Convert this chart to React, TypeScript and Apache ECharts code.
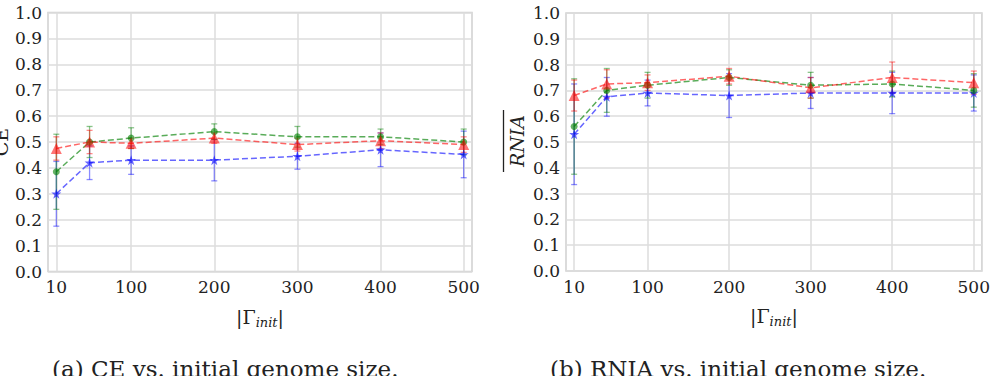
import React, { useEffect, useRef } from "react";
import * as echarts from "echarts";

// ---- data ----
const xValues = [10, 50, 100, 200, 300, 400, 500];
const xTickValues = [10, 100, 200, 300, 400, 500];

// CE panel
const ceBlue = [0.3, 0.42, 0.43, 0.43, 0.445, 0.47, 0.452];
const ceBlueErr = [0.125, 0.065, 0.055, 0.08, 0.05, 0.065, 0.09];
const ceGreen = [0.385, 0.5, 0.515, 0.54, 0.52, 0.52, 0.5];
const ceGreenErr = [0.145, 0.06, 0.04, 0.03, 0.04, 0.03, 0.05];
const ceRed = [0.475, 0.5, 0.495, 0.515, 0.49, 0.505, 0.49];
const ceRedErr = [0.045, 0.045, 0.02, 0.02, 0.025, 0.03, 0.03];

// RNIA panel
const rnBlue = [0.53, 0.675, 0.69, 0.68, 0.69, 0.69, 0.69];
const rnBlueErr = [0.195, 0.075, 0.05, 0.085, 0.06, 0.08, 0.07];
const rnGreen = [0.56, 0.7, 0.72, 0.75, 0.72, 0.725, 0.7];
const rnGreenErr = [0.185, 0.085, 0.05, 0.03, 0.05, 0.05, 0.065];
const rnRed = [0.68, 0.725, 0.73, 0.755, 0.71, 0.75, 0.73];
const rnRedErr = [0.06, 0.055, 0.03, 0.03, 0.04, 0.06, 0.045];

const captionA = "(a) CE vs. initial genome size.";
const captionB = "(b) RNIA vs. initial genome size.";

// ---- styling ----
const FONT = '"DejaVu Serif", serif';
const TXT = "#222222";
const GRID_C = "#dddddd";
const STAR =
  "path://M0,-1L0.2245,-0.309L0.951,-0.309L0.363,0.118L0.588,0.809L0,0.382L-0.588,0.809L-0.363,0.118L-0.951,-0.309L-0.2245,-0.309Z";

const COLORS = {
  blue: { marker: "rgba(0,0,255,0.6)", line: "rgba(0,0,255,0.6)", err: "rgba(0,0,255,0.45)" },
  green: { marker: "rgba(0,128,0,0.6)", line: "rgba(0,128,0,0.65)", err: "rgba(0,128,0,0.45)" },
  red: { marker: "rgba(255,0,0,0.55)", line: "rgba(255,0,0,0.6)", err: "rgba(255,0,0,0.45)" },
};

function errSeries(idx: number, means: number[], errs: number[], color: string) {
  return {
    type: "custom",
    xAxisIndex: idx,
    yAxisIndex: idx,
    silent: true,
    z: 2,
    data: xValues.map((x, i) => [x, means[i] - errs[i], means[i] + errs[i]]),
    encode: { x: 0, y: [1, 2] },
    renderItem: (params: any, api: any) => {
      const x = api.value(0);
      const lo = api.value(1);
      const hi = api.value(2);
      const p1 = api.coord([x, lo]);
      const p2 = api.coord([x, hi]);
      const cw = 3;
      const style = { stroke: color, lineWidth: 1.3, fill: null };
      return {
        type: "group",
        children: [
          { type: "line", shape: { x1: p1[0], y1: p1[1], x2: p2[0], y2: p2[1] }, style },
          { type: "line", shape: { x1: p1[0] - cw, y1: p1[1], x2: p1[0] + cw, y2: p1[1] }, style },
          { type: "line", shape: { x1: p2[0] - cw, y1: p2[1], x2: p2[0] + cw, y2: p2[1] }, style },
        ],
      };
    },
  };
}

function lineSeries(
  idx: number,
  means: number[],
  c: { marker: string; line: string },
  symbol: string,
  size: number
) {
  return {
    type: "line",
    xAxisIndex: idx,
    yAxisIndex: idx,
    silent: true,
    z: 3,
    data: xValues.map((x, i) => [x, means[i]]),
    symbol,
    symbolSize: size,
    itemStyle: { color: c.marker, borderWidth: 0 },
    lineStyle: { color: c.line, width: 1.5, type: [6, 3] },
  };
}

function xAxis(idx: number) {
  return {
    type: "value",
    gridIndex: idx,
    min: 0,
    max: 510,
    axisLine: { show: false },
    axisTick: { show: false, customValues: xTickValues },
    axisLabel: { customValues: xTickValues, fontFamily: FONT, fontSize: 17, color: TXT, margin: 7 },
    splitLine: { show: true, lineStyle: { color: GRID_C, width: 1.5 } },
    name: "{a||Γ}{b|init}{a||}",
    nameLocation: "middle",
    nameGap: 33,
    nameTextStyle: {
      color: TXT,
      fontFamily: FONT,
      fontSize: 19,
      rich: {
        a: { fontFamily: FONT, fontSize: 19, color: TXT, lineHeight: 24 },
        b: {
          fontFamily: FONT,
          fontSize: 13,
          fontStyle: "italic",
          color: TXT,
          verticalAlign: "top",
          lineHeight: 14,
          padding: [11, 0, 0, 0],
        },
      },
    },
  };
}

function yAxis(idx: number) {
  return {
    type: "value",
    gridIndex: idx,
    min: 0,
    max: 1,
    interval: 0.1,
    axisLine: { show: false },
    axisTick: { show: false },
    axisLabel: {
      fontFamily: FONT,
      fontSize: 17,
      color: TXT,
      margin: 6,
      formatter: (v: number) => v.toFixed(1),
    },
    splitLine: { show: true, lineStyle: { color: GRID_C, width: 1.5 } },
  };
}

export default function App() {
  const ref = useRef<HTMLDivElement>(null);
  useEffect(() => {
    if (!ref.current) return;
    const chart = echarts.init(ref.current, null, { renderer: "svg" });
    chart.setOption({
      animation: false,
      backgroundColor: "#ffffff",
      grid: [
        { left: 48, top: 12.5, width: 424, height: 259, show: true, borderColor: "#cfcfcf", borderWidth: 1.5 },
        { left: 566, top: 13, width: 420, height: 258, show: true, borderColor: "#cfcfcf", borderWidth: 1.5 },
      ],
      xAxis: [xAxis(0), xAxis(1)],
      yAxis: [yAxis(0), yAxis(1)],
      series: [
        errSeries(0, ceBlue, ceBlueErr, COLORS.blue.err),
        lineSeries(0, ceBlue, COLORS.blue, STAR, 10),
        errSeries(0, ceGreen, ceGreenErr, COLORS.green.err),
        lineSeries(0, ceGreen, COLORS.green, "circle", 7),
        errSeries(0, ceRed, ceRedErr, COLORS.red.err),
        lineSeries(0, ceRed, COLORS.red, "triangle", 11),
        errSeries(1, rnBlue, rnBlueErr, COLORS.blue.err),
        lineSeries(1, rnBlue, COLORS.blue, STAR, 10),
        errSeries(1, rnGreen, rnGreenErr, COLORS.green.err),
        lineSeries(1, rnGreen, COLORS.green, "circle", 7),
        errSeries(1, rnRed, rnRedErr, COLORS.red.err),
        lineSeries(1, rnRed, COLORS.red, "triangle", 11),
      ],
      graphic: [
        {
          type: "text",
          x: 1,
          y: 142,
          rotation: Math.PI / 2,
          style: { text: "CE", fontFamily: FONT, fontSize: 19, fill: TXT, align: "center", verticalAlign: "middle" },
        },
        {
          type: "text",
          x: 517,
          y: 141,
          rotation: Math.PI / 2,
          style: {
            text: "RNIA",
            fontFamily: FONT,
            fontSize: 19,
            fontStyle: "italic",
            fill: TXT,
            align: "center",
            verticalAlign: "middle",
          },
        },
        {
          type: "line",
          shape: { x1: 503.5, y1: 110, x2: 503.5, y2: 172 },
          style: { stroke: TXT, lineWidth: 1.3 },
        },
        {
          type: "text",
          x: 52,
          y: 369,
          style: { text: captionA, fontFamily: FONT, fontSize: 23, fill: TXT, align: "left", verticalAlign: "middle" },
        },
        {
          type: "text",
          x: 550,
          y: 369,
          style: { text: captionB, fontFamily: FONT, fontSize: 23, fill: TXT, align: "left", verticalAlign: "middle" },
        },
      ],
    });
    return () => chart.dispose();
  }, []);
  return (
    <div
      ref={ref}
      style={{ position: "fixed", left: 0, top: 0, width: 993, height: 376, background: "#fff" }}
    />
  );
}
